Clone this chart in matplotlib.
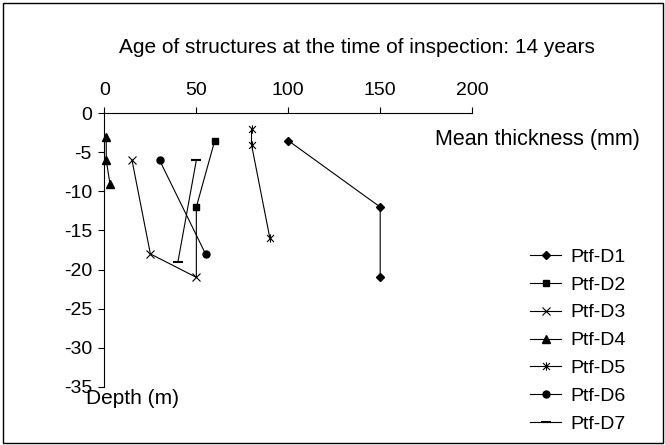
import matplotlib
matplotlib.use("Agg")
from matplotlib import pyplot as plt
from matplotlib.patches import Rectangle
from matplotlib.path import Path

plt.rcParams['font.family'] = ['Liberation Sans', 'DejaVu Sans']
plt.rcParams['axes.unicode_minus'] = False

# thickness (mm) vs depth (m) per structure
d1_x = [100, 150, 150]
d1_y = [-3.5, -12, -21]
d2_x = [60, 50, 50]
d2_y = [-3.5, -12, -21]
d3_x = [15, 25, 50]
d3_y = [-6, -18, -21]
d4_x = [1, 1, 3]
d4_y = [-3, -6, -9]
d5_x = [80, 80, 90]
d5_y = [-2, -4, -16]
d6_x = [30, 55]
d6_y = [-6, -18]
d7_x = [50, 40]
d7_y = [-6, -19]

labels = ["Ptf-D1", "Ptf-D2", "Ptf-D3", "Ptf-D4", "Ptf-D5", "Ptf-D6", "Ptf-D7"]
x_ticks = [0, 50, 100, 150, 200]
y_ticks = [0, -5, -10, -15, -20, -25, -30, -35]

# Excel-style star: an x with a vertical bar through it
star = Path([(-1, -1), (1, 1), (-1, 1), (1, -1), (0, -1.2), (0, 1.2)],
            [Path.MOVETO, Path.LINETO, Path.MOVETO, Path.LINETO, Path.MOVETO, Path.LINETO])

fig = plt.figure(figsize=(6.65, 4.45), dpi=100)
ax = fig.add_axes([0.157, 0.131, 0.553, 0.6144])

lw = 0.8
common = dict(color='black', lw=lw, clip_on=False, markeredgecolor='black')
ax.plot(d1_x, d1_y, marker='D', ms=4, label=labels[0], **common)
ax.plot(d2_x, d2_y, marker='s', ms=5, markevery=[0, 1], label=labels[1], **common)
ax.plot(d3_x, d3_y, marker='x', ms=6, mew=0.8, label=labels[2], **common)
ax.plot(d4_x, d4_y, marker='^', ms=5.5, label=labels[3], **common)
ax.plot(d5_x, d5_y, marker=star, ms=6, mew=0.8, label=labels[4], **common)
ax.plot(d6_x, d6_y, marker='o', ms=5, label=labels[5], **common)
ax.plot(d7_x, d7_y, marker='_', ms=7, mew=1.5, label=labels[6], **common)

ax.set_xlim(0, 200)
ax.set_ylim(-35, 0)
ax.set_xticks(x_ticks)
ax.set_yticks(y_ticks)
ax.xaxis.tick_top()
ax.spines['bottom'].set_visible(False)
ax.spines['right'].set_visible(False)
for s in ('top', 'left'):
    ax.spines[s].set_linewidth(0.8)
ax.tick_params(direction='out', length=4, width=0.8, labelsize=14)
ax.tick_params(axis='x', pad=6)
ax.tick_params(axis='y', pad=5)

fig.text(0.537, 0.880, "Age of structures at the time of inspection: 14 years",
         ha='center', va='baseline', fontsize=15)
fig.text(435 / 665, 1 - 140 / 445, "Mean thickness (mm)", ha='left', va='center', fontsize=15.5)
fig.text(133 / 665, 1 - 398 / 445, "Depth (m)", ha='center', va='center', fontsize=15)

ax.legend(loc='upper left', bbox_to_anchor=(530 / 665, 1 - 248 / 445),
          bbox_transform=fig.transFigure, frameon=False, fontsize=14,
          handlelength=1.6, handletextpad=0.5, labelspacing=0.53, borderpad=0,
          borderaxespad=0)

fig.patches.append(Rectangle((3 / 665, 2 / 445), 660 / 665, 440 / 445,
                             transform=fig.transFigure, fill=False,
                             edgecolor='black', lw=1))

fig.savefig("out.png", dpi=100)
